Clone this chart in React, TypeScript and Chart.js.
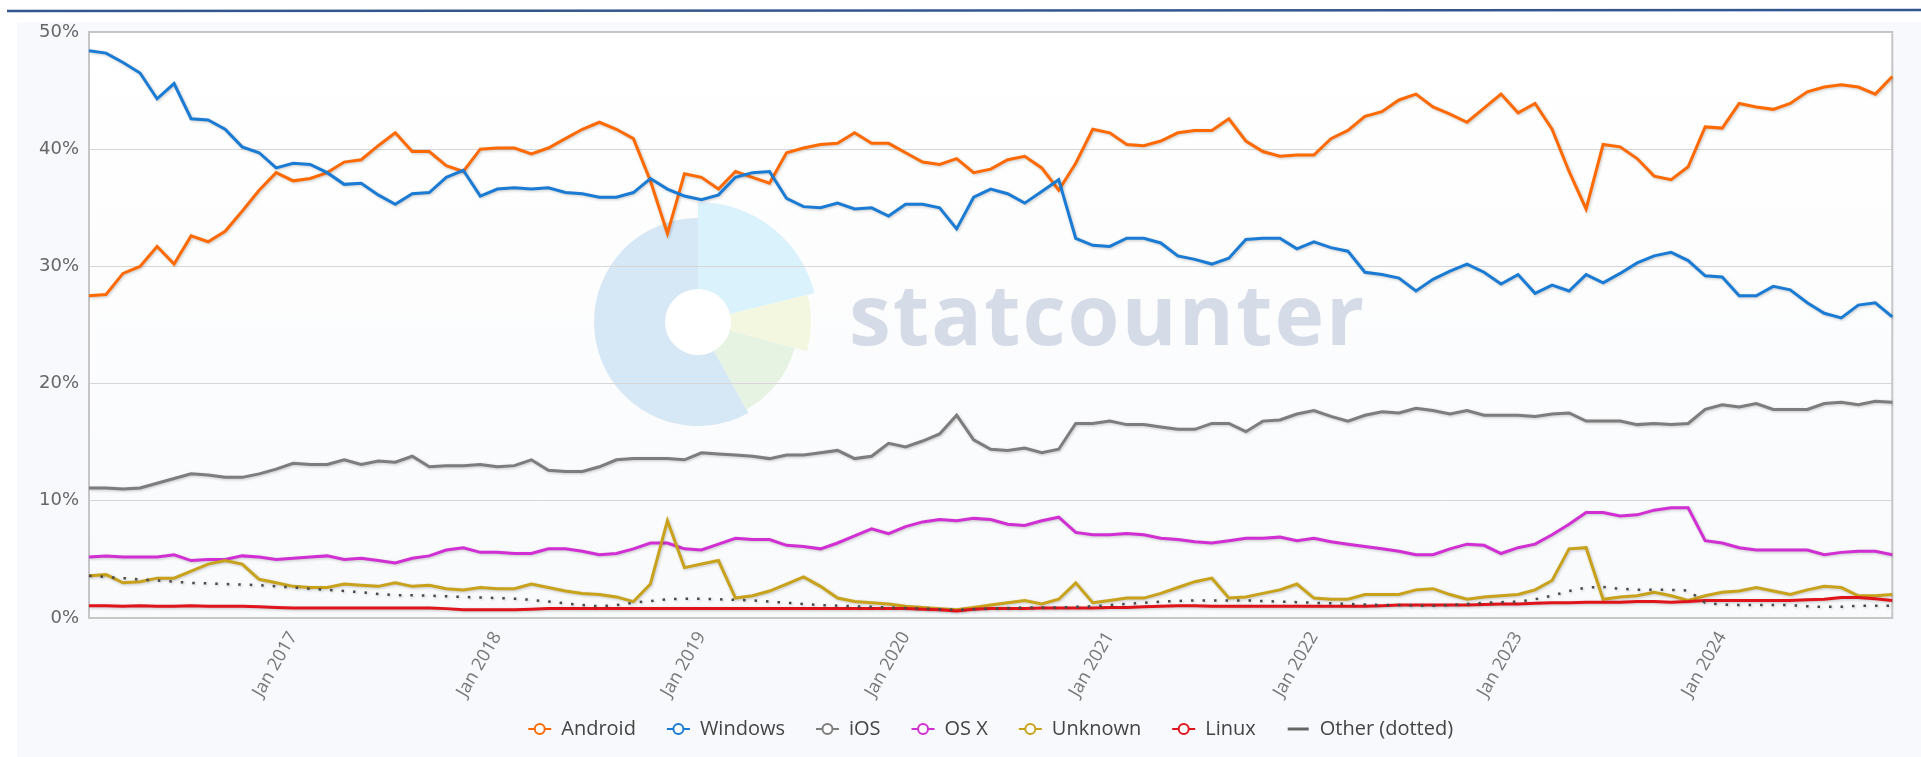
import React, { useEffect, useRef } from 'react';
import { Chart, registerables } from 'chart.js';

Chart.register(...registerables);

// ---------- DATA ----------
const years = [2016, 2017, 2018, 2019, 2020, 2021, 2022, 2023, 2024];
const monthNames = ['Jan', 'Feb', 'Mar', 'Apr', 'May', 'Jun', 'Jul', 'Aug', 'Sep', 'Oct', 'Nov', 'Dec'];
const lastCategory = 'Nov 2024';
const categories: string[] = [];
for (const y of years) for (const m of monthNames) categories.push(`${m} ${y}`);
categories.length = categories.indexOf(lastCategory) + 1;

const xTickLabels = ['Jan 2017', 'Jan 2018', 'Jan 2019', 'Jan 2020', 'Jan 2021', 'Jan 2022', 'Jan 2023', 'Jan 2024'];
const yTickValues = [0, 10, 20, 30, 40, 50];

const android = [
  27.5, 27.6, 29.4, 30.0, 31.7, 30.2, 32.6, 32.1, 33.0, 34.7, 36.5, 38.0,
  37.3, 37.5, 38.0, 38.9, 39.1, 40.3, 41.4, 39.8, 39.8, 38.6, 38.1, 40.0,
  40.1, 40.1, 39.6, 40.1, 40.9, 41.7, 42.3, 41.7, 40.9, 37.3, 32.8, 37.9,
  37.6, 36.6, 38.1, 37.6, 37.1, 39.7, 40.1, 40.4, 40.5, 41.4, 40.5, 40.5,
  39.7, 38.9, 38.7, 39.2, 38.0, 38.3, 39.1, 39.4, 38.4, 36.5, 38.8, 41.7,
  41.4, 40.4, 40.3, 40.7, 41.4, 41.6, 41.6, 42.6, 40.7, 39.8, 39.4, 39.5,
  39.5, 40.9, 41.6, 42.8, 43.2, 44.2, 44.7, 43.6, 43.0, 42.3, 43.5, 44.7,
  43.1, 43.9, 41.7, 38.1, 34.9, 40.4, 40.2, 39.2, 37.7, 37.4, 38.5, 41.9,
  41.8, 43.9, 43.6, 43.4, 43.9, 44.9, 45.3, 45.5, 45.3, 44.7, 46.2,
];
const windows = [
  48.4, 48.2, 47.4, 46.5, 44.3, 45.6, 42.6, 42.5, 41.7, 40.2, 39.7, 38.4,
  38.8, 38.7, 38.0, 37.0, 37.1, 36.1, 35.3, 36.2, 36.3, 37.6, 38.2, 36.0,
  36.6, 36.7, 36.6, 36.7, 36.3, 36.2, 35.9, 35.9, 36.3, 37.5, 36.6, 36.0,
  35.7, 36.1, 37.6, 38.0, 38.1, 35.8, 35.1, 35.0, 35.4, 34.9, 35.0, 34.3,
  35.3, 35.3, 35.0, 33.2, 35.9, 36.6, 36.2, 35.4, 36.4, 37.4, 32.4, 31.8,
  31.7, 32.4, 32.4, 32.0, 30.9, 30.6, 30.2, 30.7, 32.3, 32.4, 32.4, 31.5,
  32.1, 31.6, 31.3, 29.5, 29.3, 29.0, 27.9, 28.9, 29.6, 30.2, 29.5, 28.5,
  29.3, 27.7, 28.4, 27.9, 29.3, 28.6, 29.4, 30.3, 30.9, 31.2, 30.5, 29.2,
  29.1, 27.5, 27.5, 28.3, 28.0, 26.9, 26.0, 25.6, 26.7, 26.9, 25.7,
];
const ios = [
  11.1, 11.1, 11.0, 11.1, 11.5, 11.9, 12.3, 12.2, 12.0, 12.0, 12.3, 12.7,
  13.2, 13.1, 13.1, 13.5, 13.1, 13.4, 13.3, 13.8, 12.9, 13.0, 13.0, 13.1,
  12.9, 13.0, 13.5, 12.6, 12.5, 12.5, 12.9, 13.5, 13.6, 13.6, 13.6, 13.5,
  14.1, 14.0, 13.9, 13.8, 13.6, 13.9, 13.9, 14.1, 14.3, 13.6, 13.8, 14.9,
  14.6, 15.1, 15.7, 17.3, 15.2, 14.4, 14.3, 14.5, 14.1, 14.4, 16.6, 16.6,
  16.8, 16.5, 16.5, 16.3, 16.1, 16.1, 16.6, 16.6, 15.9, 16.8, 16.9, 17.4,
  17.7, 17.2, 16.8, 17.3, 17.6, 17.5, 17.9, 17.7, 17.4, 17.7, 17.3, 17.3,
  17.3, 17.2, 17.4, 17.5, 16.8, 16.8, 16.8, 16.5, 16.6, 16.5, 16.6, 17.8,
  18.2, 18.0, 18.3, 17.8, 17.8, 17.8, 18.3, 18.4, 18.2, 18.5, 18.4,
];
const osx = [
  5.2, 5.3, 5.2, 5.2, 5.2, 5.4, 4.9, 5.0, 5.0, 5.3, 5.2, 5.0,
  5.1, 5.2, 5.3, 5.0, 5.1, 4.9, 4.7, 5.1, 5.3, 5.8, 6.0, 5.6,
  5.6, 5.5, 5.5, 5.9, 5.9, 5.7, 5.4, 5.5, 5.9, 6.4, 6.4, 5.9,
  5.8, 6.3, 6.8, 6.7, 6.7, 6.2, 6.1, 5.9, 6.4, 7.0, 7.6, 7.2,
  7.8, 8.2, 8.4, 8.3, 8.5, 8.4, 8.0, 7.9, 8.3, 8.6, 7.3, 7.1,
  7.1, 7.2, 7.1, 6.8, 6.7, 6.5, 6.4, 6.6, 6.8, 6.8, 6.9, 6.6,
  6.8, 6.5, 6.3, 6.1, 5.9, 5.7, 5.4, 5.4, 5.9, 6.3, 6.2, 5.5,
  6.0, 6.3, 7.1, 8.0, 9.0, 9.0, 8.7, 8.8, 9.2, 9.4, 9.4, 6.6,
  6.4, 6.0, 5.8, 5.8, 5.8, 5.8, 5.4, 5.6, 5.7, 5.7, 5.4,
];
const unknown = [
  3.6, 3.7, 3.0, 3.1, 3.4, 3.4, 4.0, 4.6, 4.9, 4.6, 3.3, 3.0,
  2.7, 2.6, 2.6, 2.9, 2.8, 2.7, 3.0, 2.7, 2.8, 2.5, 2.4, 2.6,
  2.5, 2.5, 2.9, 2.6, 2.3, 2.1, 2.0, 1.8, 1.4, 2.9, 8.3, 4.3,
  4.6, 4.9, 1.7, 1.9, 2.3, 2.9, 3.5, 2.7, 1.7, 1.4, 1.3, 1.2,
  1.0, 0.9, 0.8, 0.7, 0.9, 1.1, 1.3, 1.5, 1.2, 1.6, 3.0, 1.3,
  1.5, 1.7, 1.7, 2.1, 2.6, 3.1, 3.4, 1.7, 1.8, 2.1, 2.4, 2.9,
  1.7, 1.6, 1.6, 2.0, 2.0, 2.0, 2.4, 2.5, 2.0, 1.6, 1.8, 1.9,
  2.0, 2.4, 3.2, 5.9, 6.0, 1.6, 1.8, 1.9, 2.2, 1.9, 1.5, 1.9,
  2.2, 2.3, 2.6, 2.3, 2.0, 2.4, 2.7, 2.6, 1.9, 1.9, 2.0,
];
const linux = [
  1.05, 1.05, 1.0, 1.05, 1.0, 1.0, 1.05, 1.0, 1.0, 1.0, 0.95, 0.9,
  0.85, 0.85, 0.85, 0.85, 0.85, 0.85, 0.85, 0.85, 0.85, 0.8, 0.7, 0.7,
  0.7, 0.7, 0.75, 0.8, 0.8, 0.8, 0.8, 0.8, 0.8, 0.8, 0.8, 0.8,
  0.8, 0.8, 0.8, 0.8, 0.8, 0.8, 0.8, 0.8, 0.8, 0.8, 0.8, 0.8,
  0.8, 0.75, 0.7, 0.6, 0.75, 0.8, 0.8, 0.8, 0.85, 0.85, 0.85, 0.85,
  0.9, 0.9, 0.95, 1.0, 1.05, 1.05, 1.0, 1.0, 1.0, 1.0, 1.0, 1.0,
  1.0, 1.0, 1.0, 1.0, 1.05, 1.1, 1.1, 1.1, 1.1, 1.1, 1.15, 1.2,
  1.2, 1.25, 1.3, 1.3, 1.35, 1.35, 1.35, 1.4, 1.4, 1.35, 1.4, 1.5,
  1.5, 1.5, 1.5, 1.5, 1.5, 1.55, 1.6, 1.75, 1.75, 1.65, 1.5,
];
const other = [
  3.6, 3.5, 3.4, 3.3, 3.2, 3.1, 3.0, 2.95, 2.9, 2.85, 2.8, 2.7,
  2.6, 2.5, 2.4, 2.3, 2.2, 2.05, 1.95, 1.95, 1.9, 1.85, 1.8, 1.75,
  1.7, 1.65, 1.55, 1.4, 1.25, 1.1, 1.0, 1.1, 1.3, 1.45, 1.6, 1.65,
  1.65, 1.6, 1.55, 1.5, 1.4, 1.3, 1.2, 1.1, 1.05, 1.0, 0.95, 0.9,
  0.85, 0.8, 0.75, 0.7, 0.75, 0.8, 0.85, 0.9, 0.9, 0.9, 0.95, 1.0,
  1.1, 1.2, 1.3, 1.4, 1.45, 1.5, 1.5, 1.5, 1.5, 1.45, 1.4, 1.35,
  1.3, 1.25, 1.2, 1.15, 1.1, 1.1, 1.05, 1.05, 1.1, 1.2, 1.3, 1.35,
  1.4, 1.6, 1.9, 2.3, 2.6, 2.65, 2.5, 2.4, 2.4, 2.4, 2.35, 1.3,
  1.15, 1.1, 1.1, 1.1, 1.1, 1.0, 0.95, 0.95, 1.05, 1.05, 1.05,
];

const seriesNames = ['Android', 'Windows', 'iOS', 'OS X', 'Unknown', 'Linux', 'Other (dotted)'];
const seriesColors = ['#ff6a00', '#1a7bd4', '#7d7d7d', '#d12fd3', '#c9a21c', '#e0141b', '#4a4a4a'];
const seriesData = [android, windows, ios, osx, unknown, linux, other];

// ---------- PLUGINS ----------
const backdropPlugin = {
  id: 'backdrop',
  beforeDraw(chart: any) {
    const { ctx, chartArea: a, width, height } = chart;
    ctx.save();
    ctx.fillStyle = '#ffffff';
    ctx.fillRect(0, 0, width, height);
    ctx.fillStyle = '#f8f9fc';
    ctx.fillRect(17, 22, width - 17, height - 22);
    ctx.strokeStyle = '#34568f';
    ctx.lineWidth = 2.5;
    ctx.beginPath();
    ctx.moveTo(7, 11);
    ctx.lineTo(width, 10);
    ctx.stroke();
    const g = ctx.createLinearGradient(0, a.top, 0, a.bottom);
    g.addColorStop(0, '#ffffff');
    g.addColorStop(1, '#f9fafc');
    ctx.fillStyle = g;
    ctx.fillRect(a.left, a.top, a.right - a.left, a.bottom - a.top);

    // statcounter watermark
    const cx = 698, cy = 322;
    const deg = (d: number) => (d * Math.PI) / 180;
    const seg = (r: number, s: number, e: number, c: string) => {
      ctx.beginPath();
      ctx.moveTo(cx, cy);
      ctx.arc(cx, cy, r, deg(s), deg(e));
      ctx.closePath();
      ctx.fillStyle = c;
      ctx.fill();
    };
    seg(104, 61, 270, '#d6e7f6');
    seg(120, 270, 346, '#d9f2fb');
    seg(113, 346, 375, '#f4f7df');
    seg(100, 15, 61, '#e6f2e2');
    ctx.beginPath();
    ctx.arc(cx, cy, 33, 0, Math.PI * 2);
    ctx.fillStyle = '#ffffff';
    ctx.fill();
    ctx.font = 'bold 84px "Open Sans"';
    (ctx as any).letterSpacing = '2px';
    ctx.fillStyle = '#d5dbe7';
    ctx.textBaseline = 'alphabetic';
    ctx.textAlign = 'left';
    ctx.fillText('statcounter', 849, 345);
    ctx.restore();
  },
  beforeDatasetsDraw(chart: any) {
    const { ctx, chartArea: a } = chart;
    ctx.save();
    ctx.strokeStyle = '#c6c6c6';
    ctx.lineWidth = 2;
    ctx.strokeRect(a.left, a.top, a.right - a.left, a.bottom - a.top);
    ctx.restore();
  },
  beforeDatasetDraw(chart: any) {
    const ctx = chart.ctx;
    ctx.save();
    ctx.shadowColor = 'rgba(0,0,0,0.22)';
    ctx.shadowBlur = 3;
    ctx.shadowOffsetX = 1;
    ctx.shadowOffsetY = 1;
  },
  afterDatasetDraw(chart: any) {
    chart.ctx.restore();
  },
  afterDraw(chart: any) {
    const { ctx, chartArea: a } = chart;
    ctx.save();
    ctx.font = '20px "Open Sans"';
    ctx.textBaseline = 'middle';
    ctx.textAlign = 'left';
    const markerW = 23, gapText = 10, gapItem = 31;
    const widths = seriesNames.map((n) => ctx.measureText(n).width);
    const total = widths.reduce((s, w) => s + markerW + gapText + w, 0) + gapItem * (seriesNames.length - 1);
    let x = (a.left + a.right) / 2 - total / 2;
    const y = 729;
    seriesNames.forEach((name, i) => {
      const c = seriesColors[i];
      if (i === seriesNames.length - 1) {
        ctx.strokeStyle = '#666666';
        ctx.lineWidth = 3;
        ctx.beginPath();
        ctx.moveTo(x + 1, y);
        ctx.lineTo(x + markerW - 1, y);
        ctx.stroke();
      } else {
        ctx.strokeStyle = c;
        ctx.lineWidth = 2;
        ctx.beginPath();
        ctx.moveTo(x, y);
        ctx.lineTo(x + markerW, y);
        ctx.stroke();
        ctx.beginPath();
        ctx.arc(x + markerW / 2, y, 5, 0, Math.PI * 2);
        ctx.fillStyle = '#ffffff';
        ctx.fill();
        ctx.stroke();
      }
      ctx.fillStyle = '#444444';
      ctx.fillText(name, x + markerW + gapText, y);
      x += markerW + gapText + widths[i] + gapItem;
    });
    ctx.restore();
  },
};

export default function App() {
  const ref = useRef<HTMLCanvasElement | null>(null);
  useEffect(() => {
    if (!ref.current) return;
    const datasets = seriesNames.map((name, i) => ({
      label: name,
      data: seriesData[i],
      borderColor: seriesColors[i],
      backgroundColor: seriesColors[i],
      borderWidth: i === 6 ? 2.5 : 3,
      borderDash: i === 6 ? [2.5, 9] : [],
      pointRadius: 0,
      pointHoverRadius: 0,
      tension: 0,
      fill: false,
      order: seriesNames.length - i,
    }));
    const chart = new Chart(ref.current, {
      type: 'line',
      data: { labels: categories, datasets },
      plugins: [backdropPlugin],
      options: {
        animation: false,
        responsive: false,
        devicePixelRatio: 1,
        events: [],
        layout: { padding: { top: 32, right: 4, left: 0, bottom: 0 } },
        plugins: { legend: { display: false }, tooltip: { enabled: false } },
        scales: {
          x: {
            type: 'category',
            grid: { display: false, drawTicks: false },
            border: { display: true, color: '#c6c6c6', width: 2 },
            ticks: {
              autoSkip: false,
              minRotation: 60,
              maxRotation: 60,
              padding: 10,
              color: '#777777',
              font: { family: '"Open Sans"', size: 18 },
              callback: (_v: any, i: number) => (xTickLabels.includes(categories[i]) ? categories[i] : ''),
            },
            afterFit: (s: any) => {
              s.height = 139;
            },
          },
          y: {
            min: yTickValues[0],
            max: yTickValues[yTickValues.length - 1],
            grid: { color: '#d6d6d6', lineWidth: 1, drawTicks: false },
            border: { display: true, color: '#c6c6c6', width: 2 },
            ticks: {
              stepSize: 10,
              padding: 10,
              color: '#666666',
              font: { family: '"DejaVu Sans"', size: 18 },
              callback: (v: any) => `${v}%`,
            },
            afterFit: (s: any) => {
              s.width = 89;
            },
          },
        },
      } as any,
    });
    return () => chart.destroy();
  }, []);
  return (
    <div style={{ position: 'fixed', left: 0, top: 0, width: 1921, height: 757, background: '#fff' }}>
      <canvas ref={ref} width={1921} height={757} style={{ display: 'block', width: 1921, height: 757 }} />
    </div>
  );
}
